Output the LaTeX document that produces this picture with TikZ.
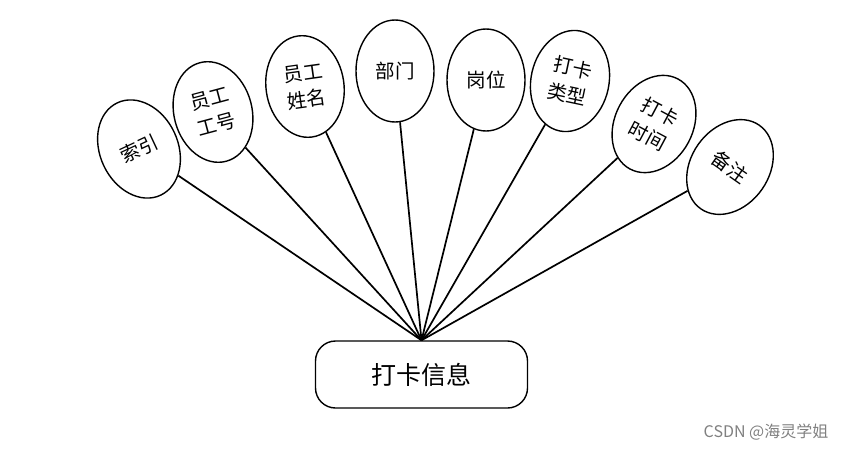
\documentclass[tikz,border=0pt]{standalone}
\usepackage{fontspec}
\setmainfont{Noto Sans CJK SC}
\usetikzlibrary{shapes.geometric}
\begin{document}
\begin{tikzpicture}[x=1pt,y=1pt,
  attr/.style={draw=black,line width=1.4pt,ellipse,minimum width=78pt,minimum height=102pt,inner sep=0pt,align=center,font=\fontsize{19.5}{27}\selectfont},
  link/.style={line width=1.7pt},
  entity/.style={draw=black,line width=1.4pt,rounded corners=20pt,minimum width=212pt,minimum height=67pt,font=\fontsize{25}{30}\selectfont}]
\useasboundingbox (0,0) rectangle (850,451);
\node[entity] (box) at (421.5,76.5) {打卡信息};
\node[attr,rotate=25] (a1) at (139,302) {索引};
\node[attr,rotate=15] (a2) at (213,339) {员工\\工号};
\node[attr,rotate=8] (a3) at (305,364.5) {员工\\姓名};
\node[attr] (a4) at (395,380) {部门};
\node[attr] (a5) at (486,371) {岗位};
\node[attr,rotate=-12] (a6) at (570,370) {打卡\\类型};
\node[attr,rotate=-28] (a7) at (654,327) {打卡\\时间};
\node[attr,rotate=-35] (a8) at (730,284) {备注};
\foreach \i in {1,...,8} \draw[link] (a\i) -- (box.north);
\node[text=gray,font=\fontsize{16}{18}\selectfont] (wm) at (766,19) {CSDN @海灵学姐};
\end{tikzpicture}
\end{document}
